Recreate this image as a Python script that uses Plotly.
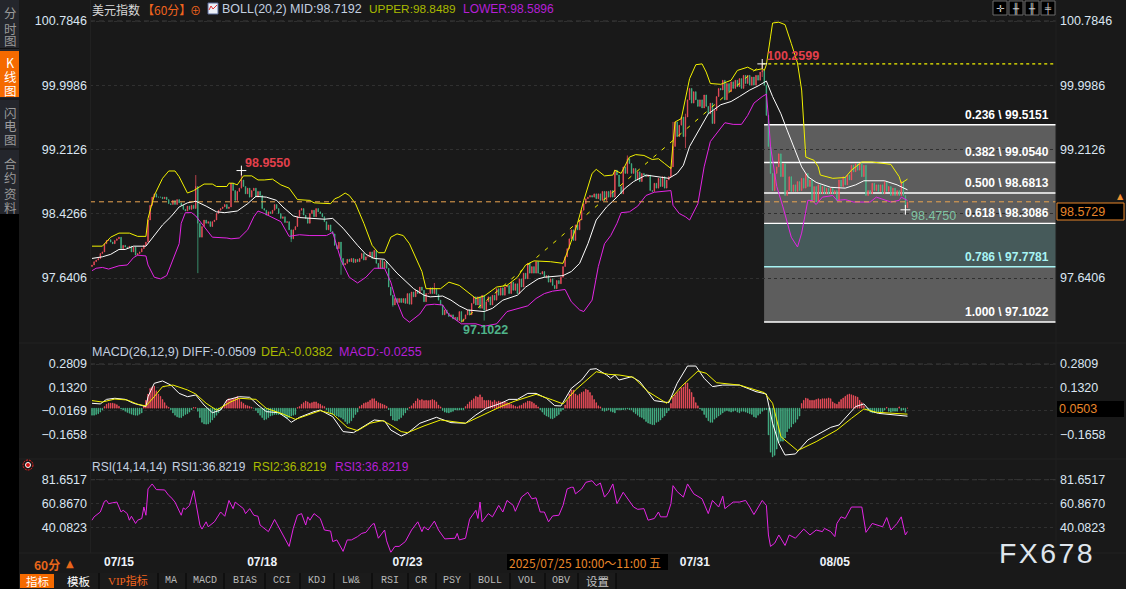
import plotly.graph_objects as go

W, H = 1126, 589
SANS = "Liberation Sans"
CJK = "Noto Sans CJK SC, Liberation Sans"

BG = "#191919"
RED = "#f8505e"
GREEN = "#46ba8c"
YELLOW = "#f2f200"
MAGENTA = "#e425e4"
AXIS_TXT = "#dbe6f2"
ORANGE = "#f0641e"
AMBER = "#e8862a"
HDR = "#c3d0e0"
HDR_Y = "#a9b900"
HDR_M = "#b51fd6"

# ---------- data ----------
CLOSES = [
 97.80,97.84,97.86,97.88,97.94,97.96,98.06,98.10,98.11,98.08,
 98.06,98.10,98.12,98.14,98.00,98.04,98.02,98.01,98.03,97.96,
 98.02,97.92,97.94,97.96,98.00,98.04,98.08,98.35,98.53,98.63,
 98.67,98.63,98.63,98.63,98.61,98.63,98.60,98.55,98.54,98.59,
 98.54,98.60,98.56,98.53,98.48,98.46,98.52,98.48,98.53,98.49,
 98.76,98.31,98.14,98.27,98.35,98.31,98.33,98.27,98.33,98.35,
 98.43,98.47,98.49,98.51,98.54,98.49,98.51,98.80,98.71,98.59,
 98.70,98.74,98.84,98.76,98.67,98.74,98.63,98.71,98.74,98.63,
 98.70,98.65,98.49,98.47,98.41,98.45,98.43,98.47,98.54,98.49,
 98.43,98.37,98.39,98.32,98.33,98.23,98.12,98.23,98.27,98.39,
 98.47,98.49,98.41,98.37,98.31,98.43,98.47,98.39,98.49,98.45,
 98.43,98.39,98.33,98.23,98.29,98.21,98.18,98.04,98.00,98.08,
 97.88,97.80,97.82,97.87,97.84,97.88,97.83,97.87,97.84,97.88,
 97.94,97.86,97.90,97.90,97.96,97.88,97.98,97.82,97.76,97.86,
 97.76,97.84,97.76,97.53,97.43,97.31,97.39,97.34,97.39,97.34,
 97.39,97.33,97.45,97.32,97.47,97.41,97.49,97.45,97.53,97.49,
 97.35,97.45,97.45,97.52,97.45,97.51,97.44,97.37,97.31,97.19,
 97.25,97.21,97.17,97.19,97.14,97.16,97.12,97.23,97.11,97.14,
 97.19,97.25,97.19,97.33,97.41,97.31,97.41,97.27,97.43,97.25,
 97.35,97.41,97.31,97.43,97.37,97.51,97.43,97.52,97.43,97.53,
 97.55,97.45,97.59,97.49,97.57,97.45,97.63,97.53,97.70,97.63,
 97.82,97.70,97.78,97.70,97.84,97.70,97.69,97.72,97.65,97.67,
 97.59,97.63,97.55,97.51,97.61,97.57,97.65,97.78,97.90,98.00,
 98.12,98.23,98.10,98.29,98.23,98.35,98.47,98.55,98.61,98.63,
 98.65,98.63,98.67,98.61,98.67,98.59,98.70,98.59,98.70,98.63,
 98.71,98.63,98.96,98.90,98.76,98.67,99.00,98.92,99.10,99.04,
 98.92,98.98,98.84,98.94,98.82,98.92,98.90,98.88,98.90,98.71,
 98.70,98.80,98.74,98.86,98.76,98.88,98.74,98.84,98.88,99.00,
 99.25,99.55,99.37,99.51,99.61,99.37,99.61,99.82,99.96,99.78,
 99.92,99.82,99.74,99.82,99.72,99.88,99.74,99.65,99.78,99.53,
 99.69,99.86,99.96,99.94,100.06,99.82,100.02,99.92,100.04,99.96,
 100.06,99.98,100.08,99.96,100.12,100.02,100.12,100.00,100.10,100.00,
 100.12,100.06,100.16,100.18,100.00,99.63,99.25,98.92,98.71,98.92,
 99.00,99.16,98.88,99.04,98.65,98.71,98.88,98.70,98.78,98.70,
 98.82,98.71,98.86,98.74,98.92,98.76,98.84,98.59,98.76,98.57,
 98.78,98.67,98.76,98.67,98.74,98.67,98.74,98.67,98.71,98.59,
 98.84,98.76,98.88,98.78,98.90,98.84,99.02,98.94,99.04,98.96,
 99.04,98.88,99.02,98.65,98.71,98.67,98.80,98.71,98.78,98.70,
 98.78,98.67,98.82,98.70,98.76,98.65,98.74,98.65,98.71,98.65,
 98.82,98.65,98.50,98.5729]
FIRST_OPEN = 97.78
WICK_BARS  = [50,51,72,96,120,145,165,178,189,258,280,286,323,392]
WICK_HIGHS = [98.90,98.60,98.955,98.23,98.08,97.43,97.58,97.23,97.43,99.14,99.55,99.65,100.2599,98.65]
WICK_LOWS  = [98.49,97.70,98.74,98.08,97.68,97.29,97.45,97.1022,97.12,99.00,99.00,99.23,100.10,98.475]

UPPER_X = [0,5,9,13,18,22,26,27,30,34,37,40,42,46,49,54,58,60,65,66,68,70,73,77,80,83,87,91,95,99,105,107,115,117,119,122,124,127,131,135,138,141,144,147,150,153,
 159,161,168,172,177,181,185,189,195,200,205,209,213,221,227,230,234,237,241,243,247,251,252,255,259,262,266,270,273,276,279,280,281,284,286,288,291,294,296,298,303,
 308,311,316,319,323,324,325,327,328,331,334,337,340,342,343,344,348,350,351,357,363,366,371,376,385,389,390,393]
UPPER_Y = [98.03,98.03,98.14,98.19,98.19,98.15,98.15,98.37,98.65,98.86,98.95,98.95,98.88,98.68,98.71,98.79,98.79,98.76,98.76,98.80,98.80,98.78,98.89,98.89,98.84,98.84,98.85,98.78,98.74,98.60,98.59,98.56,98.55,98.61,98.63,98.68,98.65,98.55,98.31,98.04,97.95,97.95,98.14,98.18,98.16,98.06,
 97.72,97.51,97.51,97.59,97.55,97.47,97.39,97.42,97.53,97.55,97.65,97.80,97.85,97.84,97.82,98.02,98.31,98.59,98.92,98.97,98.89,98.90,98.96,98.92,99.12,99.15,99.14,99.09,99.10,99.04,98.98,99.29,99.55,99.59,99.82,100.08,100.25,100.26,100.16,100.02,100.01,
 100.06,100.18,100.22,100.18,100.20,100.18,100.25,100.59,100.76,100.77,100.74,100.51,100.27,99.94,99.49,99.12,99.08,99.00,98.90,98.86,98.87,98.96,99.06,99.06,99.03,98.88,98.80,98.85]

MID_X = [0,5,9,13,16,20,26,30,34,38,42,46,50,55,60,64,70,75,79,84,89,92,97,100,105,112,116,121,128,132,136,141,147,155,
 160,163,169,173,177,181,189,193,198,205,209,215,218,227,231,235,239,243,248,253,257,261,267,272,278,282,285,288,293,297,
 303,308,312,317,321,325,328,332,335,339,342,345,349,356,363,368,372,382,388,393]
MID_Y = [97.88,97.90,97.93,97.99,97.99,98.03,98.03,98.16,98.29,98.39,98.51,98.56,98.58,98.52,98.45,98.44,98.46,98.55,98.64,98.63,98.59,98.51,98.40,98.38,98.37,98.36,98.37,98.25,98.04,97.93,97.88,97.87,97.70,97.51,
 97.43,97.41,97.42,97.37,97.30,97.25,97.23,97.27,97.37,97.43,97.53,97.63,97.65,97.67,97.72,97.82,98.06,98.35,98.51,98.63,98.74,98.82,98.90,98.88,98.86,98.92,99.02,99.25,99.47,99.65,
 99.76,99.80,99.86,99.94,99.99,100.05,99.86,99.65,99.45,99.18,99.00,98.88,98.81,98.75,98.74,98.78,98.83,98.83,98.78,98.7192]

LOWER_X = [0,2,5,8,13,17,20,22,26,27,30,33,36,39,42,43,45,48,50,54,58,65,67,71,75,78,80,83,87,91,95,100,105,113,116,118,120,124,128,132,136,141,144,146,150,153,158,
 161,165,169,172,178,185,189,195,200,206,210,214,218,222,228,231,235,237,241,244,247,250,253,255,259,263,267,271,279,280,283,286,288,292,295,298,303,
 305,309,313,316,319,323,325,326,327,330,333,337,340,342,345,347,349,352,357,359,363,367,375,378,385,389,390,393]
LOWER_Y = [97.73,97.76,97.77,97.75,97.79,97.80,97.89,97.92,97.91,97.80,97.65,97.63,97.67,97.86,98.06,98.31,98.44,98.44,98.40,98.27,98.14,98.13,98.12,98.13,98.23,98.39,98.46,98.43,98.38,98.33,98.15,98.17,98.16,98.16,98.20,98.04,97.86,97.65,97.58,97.65,97.76,97.76,97.59,97.41,97.16,97.10,97.20,
 97.31,97.32,97.31,97.19,97.08,97.08,97.05,97.08,97.23,97.27,97.30,97.39,97.45,97.48,97.50,97.35,97.25,97.23,97.37,97.78,98.06,98.16,98.31,98.44,98.45,98.52,98.65,98.69,98.71,98.53,98.43,98.39,98.35,98.55,99.00,99.31,99.47,
 99.54,99.52,99.52,99.63,99.78,99.86,99.89,99.61,99.25,98.76,98.51,98.14,98.02,98.19,98.59,98.59,98.54,98.63,98.65,98.59,98.60,98.57,98.57,98.63,98.57,98.59,98.63,98.5896]

FIB_LABELS = ["0.236 \\ 99.5151","0.382 \\ 99.0540","0.500 \\ 98.6813","0.618 \\ 98.3086","0.786 \\ 97.7781","1.000 \\ 97.1022"]
FIB_LEVELS = [99.5151,99.0540,98.6813,98.3086,97.7781,97.1022]
FIB_START = 323.9
LOW_BAR, LOW_PRICE = 178, 97.1022
HIGH_BAR, HIGH_PRICE = 323, 100.2599
LAST_BAR, LAST_LOW = 392, 98.4750
HI2_BAR, HI2_PRICE = 72, 98.9550
LAST_PRICE = 98.5729

PRICE_TICKS = [100.7846,99.9986,99.2126,98.4266,97.6406]
PRICE_TICKS_RIGHT = [100.7846,99.9986,99.2126,97.6406]
MACD_TICKS = [0.2809,0.1320,-0.0169,-0.1658]
MACD_TICKS_RIGHT = [0.2809,0.1320,-0.1658]
RSI_TICKS = [81.6517,60.8670,40.0823]
DATE_BARS = [13,82,152,290.5,358]
DATE_LABELS = ["07/15","07/18","07/23","07/31","08/05"]

DIF_X = [0,4,7,11,16,20,26,27,30,34,38,42,46,50,54,58,62,65,71,76,80,84,90,94,96,100,107,110,116,121,126,131,136,141,144,149,152,158,166,173,180,185,190,
 197,201,205,210,214,219,223,226,231,236,240,243,248,250,252,254,260,264,271,278,282,287,291,295,299,304,312,320,325,328,331,334,339,345,356,360,368,372,375,379,393]
DIF_Y = [0.031,0.027,0.056,0.063,0.056,0.031,0.010,0.073,0.158,0.173,0.147,0.094,0.073,0.084,0.020,-0.029,-0.012,0.052,0.073,0.069,0.020,-0.022,-0.029,-0.065,-0.090,-0.058,-0.022,-0.012,-0.054,-0.149,-0.156,-0.118,-0.075,-0.082,-0.139,-0.177,-0.160,-0.096,-0.058,-0.092,-0.096,-0.043,-0.001,
 0.031,0.056,0.056,0.094,0.094,0.063,0.016,0.014,0.126,0.179,0.247,0.251,0.211,0.190,0.211,0.179,0.200,0.169,0.048,0.035,0.158,0.268,0.268,0.190,0.137,0.147,0.147,0.105,0.090,-0.096,-0.224,-0.298,-0.291,-0.202,-0.122,-0.107,0.010,0.027,-0.018,-0.033,-0.0509]
DEA_X = [0,5,11,17,22,26,30,34,39,46,50,55,60,67,71,79,84,92,98,103,110,116,123,128,134,140,144,149,152,160,168,180,185,
 197,204,214,222,227,233,243,249,254,261,268,277,284,292,296,301,312,324,328,332,340,349,359,366,372,378,393]
DEA_Y = [0.048,0.039,0.058,0.052,0.025,0.014,0.073,0.137,0.147,0.116,0.090,0.031,-0.012,0.041,0.063,0.056,-0.001,-0.037,-0.071,-0.050,-0.016,-0.037,-0.122,-0.143,-0.096,-0.079,-0.107,-0.149,-0.156,-0.113,-0.075,-0.096,-0.065,
 0.010,0.046,0.088,0.052,0.027,0.116,0.232,0.215,0.211,0.196,0.105,0.031,0.137,0.236,0.222,0.162,0.147,0.099,0.031,-0.181,-0.270,-0.213,-0.139,-0.065,-0.005,-0.026,-0.0382]

HIST_PARTS = [
 (0,[-.045,-.045,-.04,-.035,-.025,-.012,.01,.025,.032,.032,.032,.028,.022,.012]),
 (14,[-.005,-.012,-.02,-.027,-.032,-.038,-.043,-.045,-.045,-.038,-.03]),
 (25,[.015,.05,.09,.125,.135,.14,.11,.09,.075,.055,.035,.015,.005]),
 (38,[-.01,-.03,-.045,-.055,-.06,-.06,-.05,-.04,-.035,-.025,-.01]),
 (49,[.004,.003]),
 (51,[-.02,-.06,-.09,-.1,-.102,-.1,-.09,-.075,-.06,-.045,-.03,-.012]),
 (63,[.01,.025,.05,.06,.055,.06,.065,.075,.06,.04,.03,.02,.015,.01,.005]),
 (79,[-.015,-.03,-.045,-.06,-.075,-.07,-.06,-.05,-.045,-.04,-.04,-.04,-.04,-.045,-.055,-.065,-.06,-.05,-.045,-.04]),
 (99,[.003,.01,.025,.035,.045,.04,.03,.035,.04,.04,.03,.025,.015,.01]),
 (113,[-.01,-.025,-.035,-.04,-.045,-.05,-.055,-.06,-.07,-.085,-.1,-.095,-.08,-.06,-.04,-.025]),
 (129,[.01,.02,.03,.035,.04,.05,.06,.06,.045,.035,.03,.025,.02,.012]),
 (143,[-.01,-.05,-.075,-.08,-.08,-.07,-.06,-.045,-.03,-.012]),
 (153,[.005,.015,.03,.045,.06,.05,.055,.048,.05,.048,.05,.055,.05,.04,.02,.008]),
 (169,[-.015,-.025,-.028,-.03,-.025,-.02,-.012,-.012,-.012,-.012,-.01]),
 (180,[.01,.025,.04,.05,.06,.075,.07,.085,.07,.05,.048,.05,.048,.04,.05,.04,.045]),
 (197,[.04,.04,.04,.035,.03,.025,.018,.012,.008,.015,.02,.03,.035,.045,.045,.04,.03,.02,.008]),
 (216,[-.01,-.025,-.04,-.05,-.055,-.065,-.068,-.06,-.05,-.04,-.02,-.01]),
 (228,[.02,.05,.09,.115,.115,.09,.08,.09,.1,.105,.12,.115,.1,.08,.055,.035,.015,.008]),
 (246,[-.015,-.02,-.015,-.01,-.02,-.025,-.03,-.012,-.01,-.012,-.01,-.008,-.005,-.01]),
 (260,[-.01,-.025,-.035,-.045,-.055,-.06,-.07,-.085,-.095,-.1,-.105,-.105,-.09,-.085,-.075,-.06,-.05,-.03,-.015]),
 (279,[.03,.07,.085,.1,.11,.13,.135,.16,.16,.12,.1,.07,.035,.015]),
 (293,[-.005,-.015,-.04,-.06,-.08,-.09,-.09,-.07,-.06,-.05,-.04,-.03,-.02,-.015,-.02,-.025,-.02,-.015,-.025,-.03,-.02,-.02,-.025,-.03,-.035,-.04,-.055,-.06,-.045,-.035,-.02,-.01,-.01]),
 (326,[-.17,-.28,-.31,-.30,-.26,-.22,-.21,-.21,-.19,-.15,-.13,-.12,-.1,-.09,-.07,-.05]),
 (342,[.03,.05,.064,.06,.05,.05,.05,.055,.06,.055,.06,.06,.06,.065,.06,.04,.03,.025,.04,.055,.065,.075,.085,.09,.085,.08,.075,.07,.05,.035,.015]),
 (374,[-.015,-.025,-.03,-.03,-.025,-.025,-.03,-.025,-.012,.005,-.02,-.025,-.02,-.02,-.02,.008,-.015,-.012,-.0255]),
]

RSI_X = [0,1,4,6,7,8,10,12,14,15,17,18,19,21,22,24,25,26,27,29,31,35,37,38,40,43,44,45,47,49,52,53,55,56,59,61,62,64,66,68,69,71,73,74,76,78,80,81,84,85,88,91,92,95,97,99,101,103,104,105,107,110,112,115,116,118,121,123,125,128,130,132,135,136,138,141,142,144,146,148,151,154,157,159,160,162,165,167,170,173,175,176,177,180,182,185,186,187,188,191,193,196,198,200,203,204,207,210,212,214,216,218,220,222,
 225,227,229,231,232,233,236,238,241,243,245,247,249,251,253,256,259,261,263,266,268,271,273,274,277,279,280,282,285,287,290,294,297,299,302,304,305,309,312,315,317,319,323,325,326,327,329,331,334,336,339,343,346,349,352,353,356,358,359,361,363,366,371,373,376,381,383,385,388,390,392,393]
RSI_Y = [46.6,49.5,53.7,62.9,63.7,60.9,61.7,62.3,53.7,55.2,52.3,46.6,50.0,43.8,46.6,48.1,58.0,50.9,73.7,78.0,73.1,72.8,68.0,66.6,62.3,50.9,57.2,56.0,59.4,72.3,42.4,38.9,45.2,40.9,45.2,50.9,53.7,50.0,63.7,56.6,62.3,59.4,56.6,52.3,56.6,50.9,50.0,42.4,38.1,36.7,47.2,37.2,35.2,23.9,39.5,50.9,52.3,42.4,49.5,46.6,52.3,48.1,38.1,37.2,28.1,29.5,19.6,29.5,29.5,32.4,35.2,36.1,42.9,43.8,31.0,38.1,28.7,18.7,23.9,23.9,28.1,38.1,45.2,36.7,40.9,38.1,45.8,38.1,30.4,30.4,31.0,35.2,29.5,31.0,47.5,55.2,48.1,62.3,45.2,52.3,49.5,59.4,53.7,63.7,59.4,54.3,66.6,70.8,65.1,66.0,53.7,53.7,45.2,50.3,
 50.9,59.4,73.7,75.1,75.1,69.4,73.7,79.4,80.8,76.5,78.8,66.6,70.8,78.0,60.9,70.8,63.7,58.0,56.0,56.6,46.6,48.1,53.7,49.5,49.5,60.9,76.5,71.4,66.6,78.0,69.4,65.1,52.3,63.7,58.0,67.4,56.6,62.3,62.3,63.7,58.0,51.5,63.7,59.4,33.8,23.9,26.7,33.8,24.7,33.8,31.0,38.9,33.8,38.1,36.7,39.5,36.7,32.4,43.8,49.5,48.1,58.0,58.0,36.1,43.8,40.9,48.9,38.1,43.8,49.5,33.8,36.82]

TAB_LABELS = ["MA","MACD","BIAS","CCI","KDJ","LW&","RSI","CR","PSY","BOLL","VOL","OBV"]
TAB_CENTERS = [171,205,245,282,317,351,390,421,452,490,527,561]

# ---------- derived ----------
n = len(CLOSES)
bars = list(range(n))
opens = [FIRST_OPEN] + CLOSES[:-1]
highs = [max(o, c) for o, c in zip(opens, CLOSES)]
lows = [min(o, c) for o, c in zip(opens, CLOSES)]
for b, hi, lo in zip(WICK_BARS, WICK_HIGHS, WICK_LOWS):
    if b < n:
        highs[b] = max(highs[b], hi)
        lows[b] = min(lows[b], lo)
hist = [0.0] * n
for start, vals in HIST_PARTS:
    for k, v in enumerate(vals):
        if start + k < n:
            hist[start + k] = v

# ---------- pixel helpers for the page chrome ----------
def px(x): return x / W
def py(y): return 1 - y / H
X_L, X_R = 90, 1056
X_RANGE = [(X_L - 92) / 2.075, (X_R - 92) / 2.075]
shapes, annos = [], []

def rect(x0, y0, x1, y1, fill=None, line=None, lw=1):
    shapes.append(dict(type="rect", xref="paper", yref="paper", x0=px(x0), x1=px(x1),
                       y0=py(y1), y1=py(y0), fillcolor=fill or "rgba(0,0,0,0)",
                       line=dict(color=line or "rgba(0,0,0,0)", width=lw if line else 0), layer="above"))

def hline(y, x0, x1, color, width=1):
    shapes.append(dict(type="line", xref="paper", yref="paper", x0=px(x0), x1=px(x1), y0=py(y), y1=py(y),
                       line=dict(color=color, width=width), layer="above"))

def vline(x, y0, y1, color, width=1):
    shapes.append(dict(type="line", xref="paper", yref="paper", x0=px(x), x1=px(x), y0=py(y0), y1=py(y1),
                       line=dict(color=color, width=width), layer="above"))

def txt(x, y, text, color=AXIS_TXT, size=12, anchor="left", font=SANS):
    annos.append(dict(x=px(x), y=py(y), xref="paper", yref="paper", text=text, showarrow=False,
                      xanchor=anchor, yanchor="middle", font=dict(color=color, size=size, family=font),
                      borderpad=0, borderwidth=0))

# ---------- traces ----------
fig = go.Figure()
UP = dict(line=dict(color=RED, width=0.7), fillcolor=RED)
DN = dict(line=dict(color=GREEN, width=0.7), fillcolor=GREEN)
fig.add_trace(go.Candlestick(x=bars, open=opens, high=highs, low=lows, close=CLOSES, increasing=UP, decreasing=DN,
    whiskerwidth=0, hoverinfo="skip", showlegend=False, xaxis="x", yaxis="y"))
def line(xs, ys, color, yaxis="y", width=1, dash=None):
    fig.add_trace(go.Scatter(x=xs, y=ys, mode="lines", line=dict(color=color, width=width, dash=dash),
                             hoverinfo="skip", showlegend=False, xaxis="x", yaxis=yaxis))
line([LOW_BAR, HIGH_BAR], [LOW_PRICE, HIGH_PRICE], YELLOW, dash="4px,7px")
line(UPPER_X, UPPER_Y, YELLOW)
line(MID_X, MID_Y, "#ffffff")
line(LOWER_X, LOWER_Y, MAGENTA)
line([HIGH_BAR, X_RANGE[1]], [HIGH_PRICE, HIGH_PRICE], YELLOW, dash="3px,3px", width=1.2)
line([X_RANGE[0], X_RANGE[1]], [LAST_PRICE, LAST_PRICE], "#eaa450", dash="5px,4px")
fig.add_trace(go.Scatter(x=[HI2_BAR, HIGH_BAR, LAST_BAR], y=[HI2_PRICE, HIGH_PRICE, LAST_LOW], mode="markers",
    marker=dict(symbol="cross-thin", size=7, line=dict(color="#ffffff", width=1), color="#ffffff"),
    hoverinfo="skip", showlegend=False, xaxis="x", yaxis="y"))

# MACD columns: each one runs from the zero line to its value
zeros = [0.0] * n
fig.add_trace(go.Candlestick(x=bars, open=zeros, close=hist, high=[max(v, 0) for v in hist], low=[min(v, 0) for v in hist],
    increasing=UP, decreasing=DN, whiskerwidth=0, hoverinfo="skip", showlegend=False, xaxis="x", yaxis="y2"))
line(DIF_X, DIF_Y, "#ffffff", "y2")
line(DEA_X, DEA_Y, YELLOW, "y2")
line(RSI_X, RSI_Y, MAGENTA, "y3")
for ax, tk in (("y4", PRICE_TICKS), ("y5", MACD_TICKS), ("y6", RSI_TICKS)):
    fig.add_trace(go.Scatter(x=[0], y=[tk[0]], mode="markers", marker=dict(opacity=0), hoverinfo="skip",
                             showlegend=False, xaxis="x", yaxis=ax))

# ---------- fibonacci zones, drawn from their levels ----------
FILLS = ["#5d5d5d", "#5d5d5d", "#5d5d5d", "#465a5a", "#5d5d5d"]
for k, col in enumerate(FILLS):
    shapes.append(dict(type="rect", xref="x", yref="y", x0=FIB_START, x1=X_RANGE[1],
                       y0=FIB_LEVELS[k + 1], y1=FIB_LEVELS[k], fillcolor=col, line=dict(width=0), layer="below"))
for lab, lev in zip(FIB_LABELS, FIB_LEVELS):
    c = "#a8f4f4" if lab.startswith("0.786") else "#ffffff"
    shapes.append(dict(type="line", xref="x", yref="y", x0=FIB_START, x1=X_RANGE[1], y0=lev, y1=lev,
                       line=dict(color=c, width=1.4), layer="below"))
    annos.append(dict(x=px(1051), y=lev, xref="paper", yref="y", text=f"<b>{lab}</b>", showarrow=False,
                      xanchor="right", yanchor="bottom", yshift=1, font=dict(color=c, size=12, family=SANS)))

# dashed top grid lines of the three panels
for yref, val in (("y", PRICE_TICKS[0]), ("y2", MACD_TICKS[0]), ("y3", RSI_TICKS[0])):
    shapes.append(dict(type="line", xref="x", yref=yref, x0=X_RANGE[0], x1=X_RANGE[1], y0=val, y1=val,
                       line=dict(color="#3c3c3c", width=1, dash="5px,4px"), layer="below"))

# value flags anchored on the data
def flag(bar, price, label, color, dx, dy, bold=True):
    annos.append(dict(x=bar, y=price, xref="x", yref="y", text=f"<b>{label}</b>" if bold else label, showarrow=False,
                      xshift=dx, yshift=dy, font=dict(color=color, size=12.5, family=SANS)))
flag(HI2_BAR, HI2_PRICE, f"{HI2_PRICE:.4f}", "#e2404c", 26, 8)
flag(LOW_BAR, LOW_PRICE, f"{LOW_PRICE:.4f}", "#4fb38a", 24, -8)
flag(HIGH_BAR, HIGH_PRICE, f"{HIGH_PRICE:.4f}", "#e2404c", 31, 8)
flag(LAST_BAR, LAST_LOW, f"{LAST_LOW:.4f}", "#7fc4a4", 28, -6, bold=False)

# ---------- chrome ----------
rect(0, 0, 19, 214, "#24262c")
rect(0, 214, 19, 589, "#000000")
rect(0, 51, 19, 97, "#f56a00")
hline(48.5, 0, 19, "#111111"); hline(99, 0, 19, "#111111"); hline(149, 0, 19, "#111111")
for y, ch, col in [(13,"分","#9a9a9a"),(28,"时","#9a9a9a"),(41,"图","#9a9a9a"),(62,"K","#ffffff"),(76,"线","#ffffff"),(90,"图","#ffffff"),
                   (112,"闪","#9a9a9a"),(125,"电","#9a9a9a"),(139,"图","#9a9a9a"),(163,"合","#9a9a9a"),(178,"约","#9a9a9a"),(193,"资","#9a9a9a"),(207,"料","#9a9a9a")]:
    txt(10, y, ch, col, 12.5, "center", CJK)

hline(343, 19, 1126, "#232323"); hline(459, 19, 1126, "#232323"); hline(553, 19, 1126, "#232323")
vline(90.5, 0, 553, "#212121"); vline(1056, 0, 553, "#212121")

# header rows
txt(92, 9, "美元指数", "#d8d8d8", 12, font=CJK)
txt(142, 9, "【60分】", ORANGE, 12, font=CJK)
txt(195, 10, "⊕", ORANGE, 11, "center", CJK)
rect(208, 3, 218, 14, "#ecf0f8", "#5a6a9a")
shapes.append(dict(type="path", xref="paper", yref="paper",
    path=f"M {px(209)} {py(10)} L {px(211)} {py(6)} L {px(213)} {py(9)} L {px(217)} {py(5)}",
    line=dict(color="#e03030", width=1), layer="above"))
txt(222, 9, "BOLL(20,2) MID:98.7192", HDR, 12.5)
txt(369, 9, "UPPER:98.8489", HDR_Y, 11.8)
txt(463, 9, "LOWER:98.5896", HDR_M, 12)
txt(92, 352, "MACD(26,12,9) DIFF:-0.0509", HDR, 12.5)
txt(261, 352, "DEA:-0.0382", HDR_Y, 12.5)
txt(339, 352, "MACD:-0.0255", HDR_M, 12.5)
txt(92, 467, "RSI(14,14,14)", HDR, 12)
txt(172, 467, "RSI1:36.8219", HDR, 12)
txt(253, 467, "RSI2:36.8219", HDR_Y, 12)
txt(335, 467, "RSI3:36.8219", HDR_M, 12)

# top-right buttons
for x0, g in [(993, "✛"), (1009, "╫"), (1025, "╫"), (1041, "╪")]:
    rect(x0, 1, x0 + 14, 15, "#000000", "#6a6a6a")
    txt(x0 + 7, 8, g, "#c8c8c8", 10, "center", "DejaVu Sans")

# current price boxes
rect(1057, 203, 1124, 220, "#000000", AMBER)
txt(1060, 211.5, f"{LAST_PRICE:.4f}", AMBER, 12.5)
txt(1120, 197, "▲", "#f09030", 8, "center", "DejaVu Sans")
rect(1057, 401, 1124, 417, "#000000")
txt(1059, 409, "0.0503", AMBER, 12.5)

# signal icon
shapes.append(dict(type="circle", xref="paper", yref="paper", x0=px(23), x1=px(33), y0=py(470), y1=py(460),
                   line=dict(color="#ee2020", width=1, dash="2px,1px"), fillcolor="rgba(0,0,0,0)", layer="above"))
shapes.append(dict(type="circle", xref="paper", yref="paper", x0=px(25.5), x1=px(30.5), y0=py(467.5), y1=py(462.5),
                   line=dict(color="#ffffff", width=1), fillcolor="#d01010", layer="above"))

# time bar
txt(34, 564, "<b>60分</b>", "#e8661a", 12, font=CJK)
txt(70, 563, "▲", "#e8661a", 10, "center", "DejaVu Sans")
rect(507, 554, 668, 570, "#000000")
txt(509, 562, "2025/07/25 10:00～11:00 五", AMBER, 12, font=CJK)
txt(1046, 553, "F\u200aX\u200a6\u200a7\u200a8", "#dfe5ec", 28.5, "center")

# bottom tab bar
rect(19, 573, 616, 589, "#1b1b1b")
rect(0, 572, 19, 589, "#000000")
rect(20, 574, 54, 588, "#f56a00")
txt(37, 580.5, "指标", "#ffffff", 11.5, "center", CJK)
txt(79, 580.5, "模板", "#ffffff", 11.5, "center", CJK)
txt(128, 580.5, "VIP指标", ORANGE, 11, "center", "Liberation Serif, Noto Sans CJK SC")
for x in (99, 158, 186, 224, 265, 300, 334, 372, 408, 436, 470, 510, 545, 578, 616):
    vline(x, 573, 589, "#050505")
for lab, cx in zip(TAB_LABELS, TAB_CENTERS):
    txt(cx, 580.5, lab, "#b9b9b9", 10, "center", "Liberation Mono")
txt(597, 580.5, "设置", "#c4c4c4", 11.5, "center", CJK)

# ---------- axes ----------
def yax(top_px, bot_px, lo, hi, ticks, side="left", overlay=None, grid=True, standoff=2):
    d = dict(range=[lo, hi], tickvals=ticks, tickformat=".4f", showline=False, zeroline=False, ticks="", side=side,
             anchor="x", showgrid=grid, gridcolor="#303030", griddash="dot", gridwidth=1, fixedrange=True,
             ticklabelstandoff=standoff, tickfont=dict(color=AXIS_TXT, size=12.5, family=SANS))
    if overlay:
        d["overlaying"] = overlay
    else:
        d["domain"] = [1 - bot_px / H, 1 - top_px / H]
    return d

MAIN = (10, 340, 96.8822, 100.9192)
MACD = (345, 458, -0.3169, 0.4017)
RSI = (465, 553, 18.2, 94.4)
fig.update_layout(
    width=W, height=H, autosize=False, margin=dict(l=0, r=0, t=0, b=0),
    paper_bgcolor=BG, plot_bgcolor=BG, showlegend=False, boxgap=0.65, boxmode="overlay",
    shapes=shapes, annotations=annos,
    xaxis=dict(domain=[px(X_L), px(X_R)], range=X_RANGE, anchor="y3", tickvals=DATE_BARS,
               ticktext=[f"<b>{d}</b>" for d in DATE_LABELS], showgrid=False, showline=False, zeroline=False,
               ticks="", fixedrange=True, rangeslider=dict(visible=False),
               tickfont=dict(color="#eef3fa", size=12, family=SANS)),
    yaxis=yax(*MAIN, PRICE_TICKS),
    yaxis2=yax(*MACD, MACD_TICKS),
    yaxis3=yax(*RSI, RSI_TICKS),
    yaxis4=yax(*MAIN, PRICE_TICKS_RIGHT, "right", "y", False, 3),
    yaxis5=yax(*MACD, MACD_TICKS_RIGHT, "right", "y2", False, 3),
    yaxis6=yax(*RSI, RSI_TICKS, "right", "y3", False, 3),
)

fig.write_html("out.html", config=dict(displayModeBar=False),
               post_script="document.body.style.margin='0';document.body.style.background='#191919';")
